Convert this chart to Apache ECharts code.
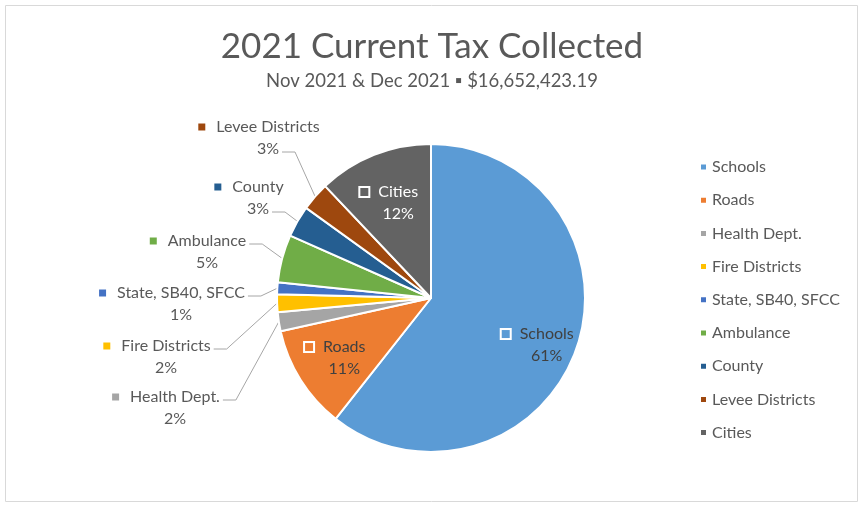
<!DOCTYPE html>
<html>
<head>
<meta charset="utf-8">
<script src="https://cdn.jsdelivr.net/npm/echarts@6/dist/echarts.min.js"></script>
<style>
  html, body { margin: 0; padding: 0; background: #fff; }
  #graph { width: 864px; height: 508px; }
</style>
</head>
<body>
<div id="graph"></div>
<script>
const chartDom = document.getElementById('graph')
const myChart = echarts.init(chartDom)

// share of the total (percent)
const names = ['Schools', 'Roads', 'Health Dept.', 'Fire Districts', 'State, SB40, SFCC',
    'Ambulance', 'County', 'Levee Districts', 'Cities']
const shares = [60.6, 10.9, 2.0, 1.85, 1.25, 5.0, 3.3, 3.0, 12.05]
const colors = ['#5B9BD5', '#ED7D31', '#A5A5A5', '#FFC000', '#4472C4',
    '#70AD47', '#255E91', '#9E480E', '#636363']
const insideNames = ['Schools', 'Roads', 'Cities']

const font = 'Lato, "Open Sans", sans-serif'

// where the outside labels sit (text centre x, block centre y, line the leader joins)
const labelSpots = {
    'Levee Districts': [268, 138, 2],
    'County': [258, 198, 2],
    'Ambulance': [207, 252, 1],
    'State, SB40, SFCC': [181, 304, 1],
    'Fire Districts': [166, 357, 1],
    'Health Dept.': [175, 408, 1]
}
const insideOffset = { 'Schools': [0, 10], 'Roads': [0, 0], 'Cities': [0, 10] }

const LH = 22
const richBase = {
    gap: { width: 11 },
    pad: { width: 18 }
}

const mainData = names.map(function (n, i) {
    const inside = insideNames.indexOf(n) >= 0
    return {
        name: n,
        value: shares[i],
        itemStyle: { color: colors[i] },
        label: inside ? { show: false } : {
            show: true,
            rich: Object.assign({ sq: { width: 7, height: 7, backgroundColor: colors[i] } }, richBase)
        },
        labelLine: { show: !inside }
    }
})

// invisible copy, only used to put the big labels further out than mid radius
const overlayData = names.map(function (n, i) {
    const inside = insideNames.indexOf(n) >= 0
    return {
        name: n,
        value: shares[i],
        label: inside ? {
            show: true,
            offset: insideOffset[n],
            color: n === 'Cities' ? '#ffffff' : '#404040',
            rich: Object.assign({
                sq: { width: 8, height: 8, borderColor: '#fff', borderWidth: 2, backgroundColor: colors[i] }
            }, { gap: { width: 10 }, pad: { width: 18 } })
        } : { show: false }
    }
})

const option = {
    animation: false,
    color: colors,
    title: {
        text: '2021 Current Tax Collected',
        subtext: 'Nov 2021 & Dec 2021 \u25AA $16,652,423.19',
        left: 'center',
        top: 24,
        itemGap: 8,
        textStyle: { fontFamily: font, fontSize: 35, fontWeight: 'normal', color: '#595959' },
        subtextStyle: { fontFamily: font, fontSize: 18.5, color: '#595959' }
    },
    legend: {
        orient: 'vertical',
        left: 694,
        top: 154,
        icon: 'rect',
        itemWidth: 7,
        itemHeight: 7,
        itemGap: 17.2,
        data: names,
        textStyle: { fontFamily: font, fontSize: 16, color: '#595959' }
    },
    graphic: [{
        type: 'rect',
        shape: { x: 5.5, y: 5.5, width: 852, height: 496 },
        style: { fill: 'none', stroke: '#d9d9d9', lineWidth: 1 },
        silent: true
    }],
    series: [
        {
            name: 'Tax',
            type: 'pie',
            center: [431, 298],
            radius: 154,
            startAngle: 90,
            percentPrecision: 0,
            itemStyle: { borderColor: '#fff', borderWidth: 2 },
            label: {
                position: 'outside',
                formatter: '{sq|}{gap|}{b}\n{pad|}{d}%',
                fontFamily: font,
                fontSize: 16,
                lineHeight: LH,
                align: 'center',
                color: '#595959'
            },
            labelLine: { length: 14, length2: 22, lineStyle: { color: '#a6a6a6', width: 1 } },
            labelLayout: function (params) {
                const spot = labelSpots[names[params.dataIndex]]
                if (!spot) return {}
                const tx = spot[0], y = spot[1]
                const bx = tx - 9
                const w = params.labelRect.width
                const lineY = (spot[2] === 1 ? y - LH / 2 : y + LH / 2) + 3
                const sx = spot[2] === 1 ? bx + w / 2 + 3 : tx + 14
                const anchor = params.labelLinePoints[0]
                return {
                    x: bx,
                    y: y,
                    align: 'center',
                    verticalAlign: 'middle',
                    labelLinePoints: [anchor, [sx + 13, lineY], [sx, lineY]]
                }
            },
            data: mainData
        },
        {
            name: 'Tax labels',
            type: 'pie',
            center: [431, 298],
            radius: 220,
            startAngle: 90,
            percentPrecision: 0,
            silent: true,
            emphasis: { disabled: true },
            itemStyle: { color: 'rgba(0,0,0,0)' },
            label: {
                position: 'inside',
                formatter: '{sq|}{gap|}{b}\n{pad|}{d}%',
                fontFamily: font,
                fontSize: 16,
                lineHeight: LH,
                align: 'center'
            },
            labelLine: { show: false },
            data: overlayData
        }
    ]
};

option && myChart.setOption(option);
</script>
</body>
</html>
